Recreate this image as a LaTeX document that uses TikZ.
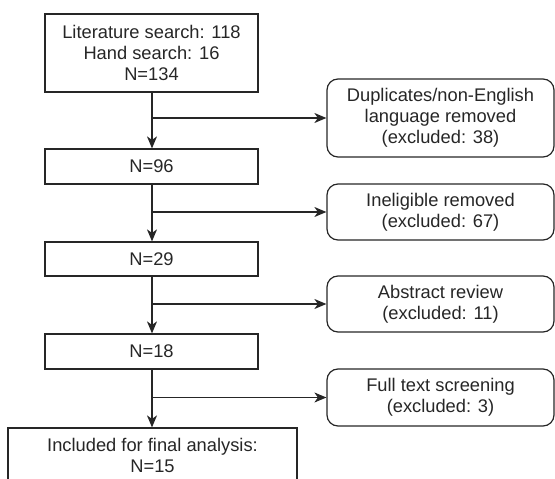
\documentclass[tikz,border=0pt]{standalone}
\usepackage{fontspec}
\setmainfont{Liberation Sans}
\usetikzlibrary{arrows.meta}
\begin{document}
\begin{tikzpicture}[x=1pt, y=-1pt,
  every node/.style={font=\fontsize{18.3}{21}\selectfont, text=black!85, align=center},
  stepbox/.style={draw=black!85, line width=1.2pt, inner sep=0pt},
  exbox/.style={draw=black!85, line width=1.2pt, rounded corners=11pt, inner sep=0pt,
    minimum width=227pt},
  flow/.style={draw=black!85, line width=1.2pt, -{Stealth[length=12pt, width=10pt, inset=3.5pt]}}]
\useasboundingbox (0,0) rectangle (555,479);
\clip (0,0) rectangle (555,479);

% Main boxes
\node [stepbox, minimum width=213pt, minimum height=78pt] (search) at (151.5,53)
  {Literature search: 118\\ Hand search: 16\\ N=134};
\node [stepbox, minimum width=213pt, minimum height=35pt] (n96) at (151.5,166.5) {N=96};
\node [stepbox, minimum width=213pt, minimum height=34pt] (n29) at (151.5,259) {N=29};
\node [stepbox, minimum width=213pt, minimum height=35pt] (n18) at (151.5,351.5) {N=18};
\node [stepbox, minimum width=289pt, minimum height=54pt] (final) at (152.5,455)
  {Included for final analysis:\\ N=15};

% Exclusion boxes
\node [exbox, minimum height=78pt] (dup) at (440.5,118)
  {Duplicates/non-English\\ language removed\\ (excluded: 38)};
\node [exbox, minimum height=56pt] (inel) at (440.5,212) {Ineligible removed\\ (excluded: 67)};
\node [exbox, minimum height=56pt] (abs) at (440.5,304) {Abstract review\\ (excluded: 11)};
\node [exbox, minimum height=57pt] (full) at (440.5,397.5) {Full text screening\\ (excluded: 3)};

% Branch points
\coordinate (b1) at (152,118);
\coordinate (b2) at (152,212);
\coordinate (b3) at (152,304);
\coordinate (b4) at (152,397.5);

% Arrows
\draw [flow] (search.south -| b1) -- (n96.north -| b1);
\draw [flow] (n96.south -| b2) -- (n29.north -| b2);
\draw [flow] (n29.south -| b3) -- (n18.north -| b3);
\draw [flow] (n18.south -| b4) -- (final.north -| b4);
\draw [flow] (b1) -- (dup.west);
\draw [flow] (b2) -- (inel.west);
\draw [flow] (b3) -- (abs.west);
\draw [flow] (b4) -- (full.west);
\end{tikzpicture}
\end{document}
